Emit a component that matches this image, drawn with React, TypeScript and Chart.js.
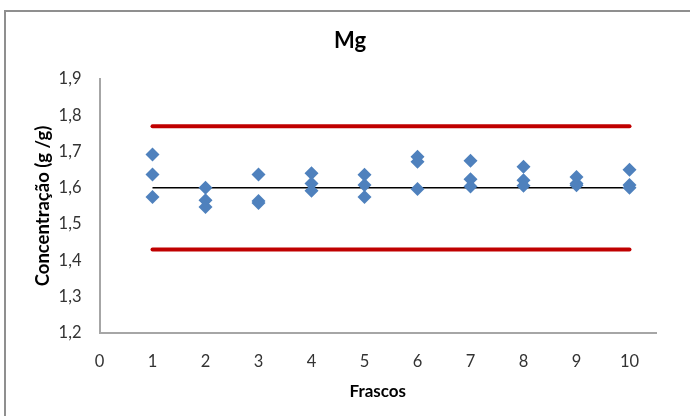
import React, { useEffect, useRef } from 'react';
import { Chart, registerables } from 'chart.js';

Chart.register(...registerables);

// Data
const frascos = [1, 2, 3, 4, 5, 6, 7, 8, 9, 10];
const replicata1 = [1.692, 1.600, 1.637, 1.640, 1.636, 1.686, 1.675, 1.658, 1.630, 1.650];
const replicata2 = [1.637, 1.566, 1.564, 1.612, 1.608, 1.672, 1.624, 1.621, 1.612, 1.608];
const replicata3 = [1.575, 1.547, 1.558, 1.592, 1.575, 1.597, 1.604, 1.606, 1.607, 1.600];
const media = 1.6;
const limiteSuperior = 1.77;
const limiteInferior = 1.43;
const xMin = 0;
const xMax = 10.5;
const yMin = 1.2;
const yMax = 1.9;

const titulo = 'Mg';
const tituloY = 'Concentração (g /g)';
const tituloX = 'Frascos';

const FONT = 'Lato, "Open Sans", sans-serif';

const pontos = frascos.flatMap((f, i) => [
  { x: f, y: replicata1[i] },
  { x: f, y: replicata2[i] },
  { x: f, y: replicata3[i] },
]);

const linha = (v: number) => [
  { x: frascos[0], y: v },
  { x: frascos[frascos.length - 1], y: v },
];

const titlePlugin = {
  id: 'mgTitle',
  afterDraw(chart: any) {
    const ctx = chart.ctx;
    ctx.save();
    ctx.font = `bold 22px ${FONT}`;
    ctx.fillStyle = '#000000';
    ctx.textAlign = 'center';
    ctx.textBaseline = 'middle';
    ctx.fillText(titulo, chart.width / 2 + 5, 41);
    ctx.restore();
  },
};

export default function App() {
  const ref = useRef<HTMLCanvasElement | null>(null);

  useEffect(() => {
    document.body.style.margin = '0';
    if (!ref.current) return;
    const chart = new Chart(ref.current, {
      type: 'scatter',
      data: {
        datasets: [
          {
            label: 'Frascos',
            data: pontos,
            pointStyle: 'rectRot',
            pointRadius: 7,
            pointHoverRadius: 7,
            backgroundColor: '#4F81BD',
            borderColor: '#4F81BD',
            borderWidth: 0,
            showLine: false,
          },
          {
            label: 'Média',
            data: linha(media),
            showLine: true,
            borderColor: '#000000',
            borderWidth: 1.5,
            pointRadius: 0,
          },
          {
            label: 'Limite superior',
            data: linha(limiteSuperior),
            showLine: true,
            borderColor: '#C00000',
            borderWidth: 4,
            borderCapStyle: 'round',
            pointRadius: 0,
          },
          {
            label: 'Limite inferior',
            data: linha(limiteInferior),
            showLine: true,
            borderColor: '#C00000',
            borderWidth: 4,
            borderCapStyle: 'round',
            pointRadius: 0,
          },
        ],
      },
      options: {
        responsive: false,
        animation: false,
        devicePixelRatio: 1,
        layout: { padding: { top: 79, right: 34, bottom: 0, left: 0 } },
        plugins: {
          legend: { display: false },
          tooltip: { enabled: false },
          title: { display: false },
        },
        scales: {
          x: {
            type: 'linear',
            min: xMin,
            max: xMax,
            afterFit: (s: any) => {
              s.height = 83;
            },
            grid: { display: false, drawTicks: false },
            border: { display: true, color: '#A6A6A6', width: 2 },
            ticks: {
              stepSize: 1,
              includeBounds: false,
              padding: 19,
              color: '#333333',
              font: { family: FONT, size: 16.5 },
              callback: (v: any) => (Number.isInteger(v) ? String(v) : ''),
            },
            title: {
              display: true,
              text: tituloX,
              color: '#000000',
              font: { family: FONT, size: 17, weight: 'bold' },
              padding: { top: 0, bottom: 14 },
            },
          },
          y: {
            type: 'linear',
            min: yMin,
            max: yMax,
            afterFit: (s: any) => {
              s.width = 99.5;
            },
            grid: { display: false, drawTicks: false },
            border: { display: true, color: '#A6A6A6', width: 2 },
            ticks: {
              stepSize: 0.1,
              padding: 18,
              color: '#333333',
              font: { family: FONT, size: 16.5 },
              callback: (v: any) => Number(v).toFixed(1).replace('.', ','),
            },
            title: {
              display: true,
              text: tituloY,
              color: '#000000',
              font: { family: FONT, size: 18.5, weight: 'bold' },
              padding: { top: 32, bottom: 0 },
            },
          },
        },
      },
      plugins: [titlePlugin],
    } as any);
    return () => chart.destroy();
  }, []);

  return (
    <div style={{ position: 'relative', width: 690, height: 416, overflow: 'hidden', background: '#ffffff' }}>
      <canvas ref={ref} width={690} height={416} style={{ display: 'block', position: 'absolute', left: 0, top: 0 }} />
      <div
        style={{
          position: 'absolute',
          left: 4,
          top: 10,
          width: 720,
          height: 440,
          border: '2px solid #8F8F8F',
          boxSizing: 'border-box',
          pointerEvents: 'none',
        }}
      />
    </div>
  );
}
